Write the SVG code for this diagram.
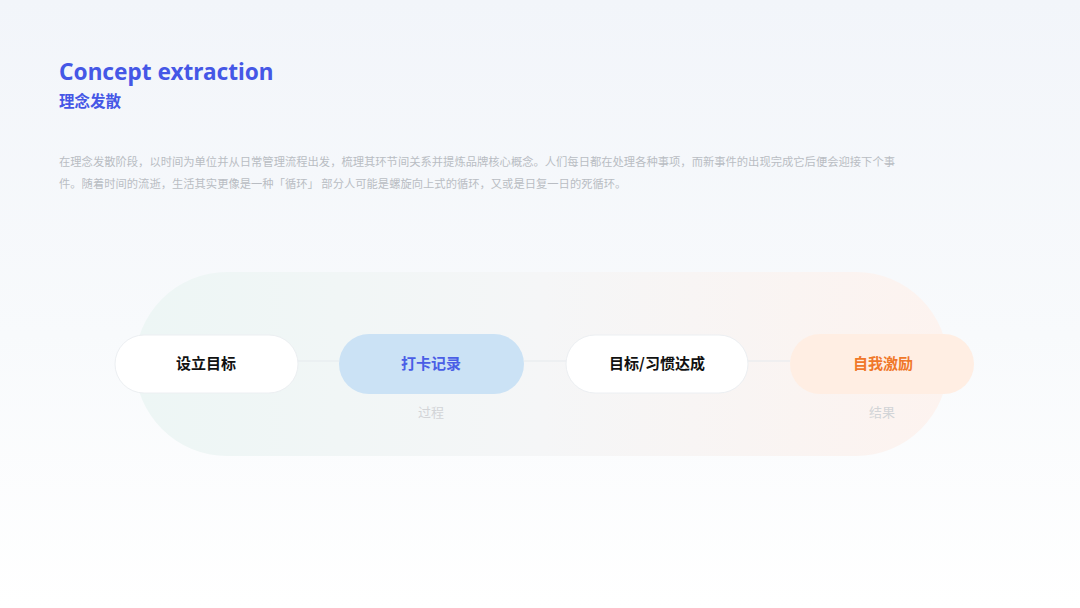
<svg xmlns="http://www.w3.org/2000/svg" width="1080" height="608" viewBox="0 0 1080 608">
<defs>
<linearGradient id="bg" x1="0" y1="0" x2="0" y2="1">
<stop offset="0" stop-color="#f2f5fa"/>
<stop offset="0.55" stop-color="#f8fafc"/>
<stop offset="1" stop-color="#ffffff"/>
</linearGradient>
<linearGradient id="band" x1="0" y1="0" x2="1" y2="0">
<stop offset="0" stop-color="#edf6f5"/>
<stop offset="0.5" stop-color="#f5f6f7"/>
<stop offset="1" stop-color="#fdf3ef"/>
</linearGradient>
<style>
.title{font-family:"Noto Sans","Noto Sans CJK SC",sans-serif;font-weight:700;fill:#4557e6}
.body{font-family:"Noto Sans CJK SC",sans-serif;font-size:11.3px;fill:#b9bdc3}
.lbl{font-family:"Noto Sans CJK SC",sans-serif;font-size:15px;font-weight:700;text-anchor:middle}
.sub{font-family:"Noto Sans CJK SC",sans-serif;font-size:13px;fill:#d2d4d7;text-anchor:middle}
.white{fill:#ffffff;stroke:#eceff2;stroke-width:1}
.conn{stroke:#e6eaee;stroke-width:1.2;fill:none}
</style>
</defs>
<rect x="0" y="0" width="1080" height="608" fill="url(#bg)"/>
<text class="title" x="59" y="80" font-size="22.6">Concept extraction</text>
<text class="title" x="59" y="107" font-size="15.5" font-family="Noto Sans CJK SC">理念发散</text>
<text class="body" x="59" y="166">在理念发散阶段，以时间为单位并从日常管理流程出发，梳理其环节间关系并提炼品牌核心概念。人们每日都在处理各种事项，而新事件的出现完成它后便会迎接下个事</text>
<text class="body" x="59" y="188">件。随着时间的流逝，生活其实更像是一种「循环」 部分人可能是螺旋向上式的循环，又或是日复一日的死循环。</text>
<rect x="135" y="272" width="813" height="184" rx="92" fill="url(#band)"/>
<g id="connectors">
<line class="conn" x1="298" y1="361" x2="339" y2="361"/>
<line class="conn" x1="524" y1="361" x2="566" y2="361"/>
<line class="conn" x1="748" y1="361" x2="790" y2="361"/>
</g>
<g id="node1">
<rect class="white" x="115" y="335" width="183" height="58" rx="29"/>
<text class="lbl" x="206" y="369" fill="#111111">设立目标</text>
</g>
<g id="node2">
<rect x="339" y="334" width="185" height="60" rx="30" fill="#cbe2f5"/>
<text class="lbl" x="431" y="369" fill="#4a5ee6">打卡记录</text>
<text class="sub" x="431" y="417">过程</text>
</g>
<g id="node3">
<rect class="white" x="566" y="335" width="182" height="58" rx="29"/>
<text class="lbl" x="657" y="369" fill="#111111">目标/习惯达成</text>
</g>
<g id="node4">
<rect x="790" y="334" width="184" height="60" rx="30" fill="#ffeee3"/>
<text class="lbl" x="883" y="369" fill="#f0782a">自我激励</text>
<text class="sub" x="882" y="417">结果</text>
</g>
</svg>
